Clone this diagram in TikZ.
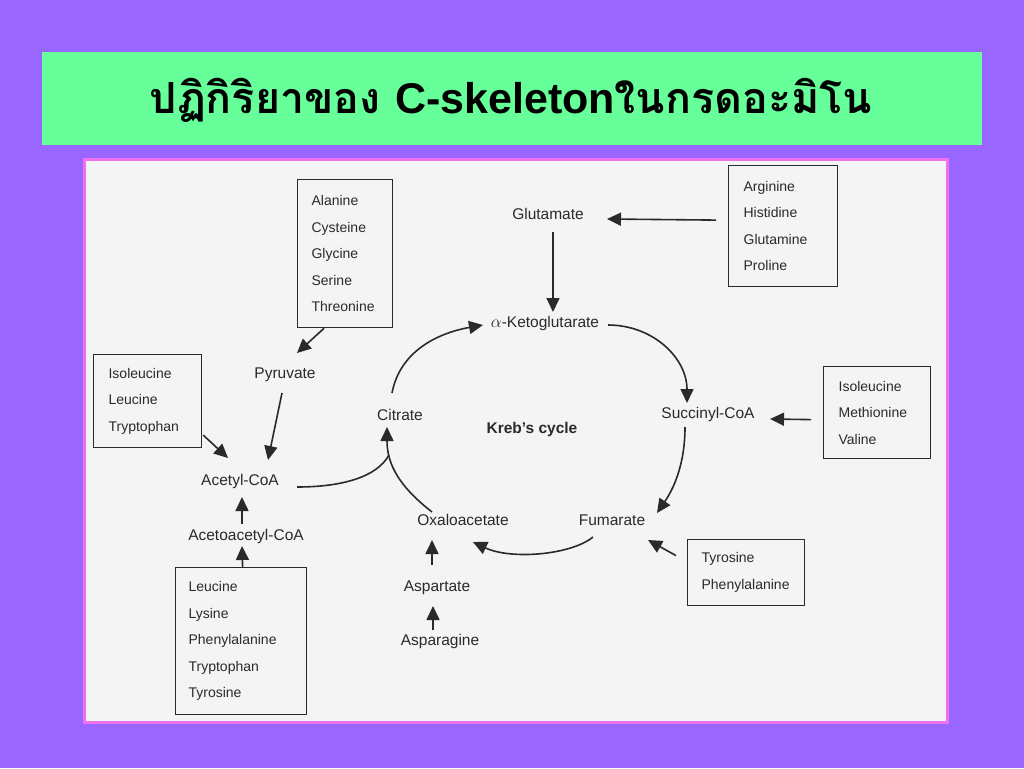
\documentclass[tikz,border=0pt]{standalone}
\usepackage{fontspec}
\setmainfont{Liberation Sans}
\newfontfamily\thaifont[Script=Thai]{Loma}
\usetikzlibrary{arrows.meta,calc}
\definecolor{bgpurple}{HTML}{9966FF}
\definecolor{titlegreen}{HTML}{66FF99}
\definecolor{panelpink}{HTML}{F070F0}
\definecolor{panelbg}{HTML}{F4F4F4}
\definecolor{ink}{HTML}{2A2A2A}
\tikzset{
  lbl/.style={text=ink, inner sep=1pt, font=\fontsize{15.5}{17}\selectfont},
  ambox/.style={draw=ink, line width=1.2pt, text=ink, align=left, anchor=north west,
    inner ysep=0pt, font=\fontsize{14}{26.5}\selectfont},
  arr/.style={draw=ink, line width=1.6pt, -{Triangle[length=14pt,width=13pt]}},
  plain/.style={draw=ink, line width=1.6pt}
}
\begin{document}
\begin{tikzpicture}[x=1pt,y=-1pt]
\fill[bgpurple] (0,0) rectangle (1024,768);
\useasboundingbox (0,0) rectangle (1024,768);
% title
\fill[titlegreen] (42,52) rectangle (982,145);
\node (title) at (511,100) {\fontsize{43}{46}\selectfont\bfseries\thaifont ปฏิกิริยาของ \rmfamily C-skeleton\thaifont ในกรดอะมิโน};
% panel
\fill[panelpink] (83,158) rectangle (949,724);
\fill[panelbg] (86,161) rectangle (946,721);
% boxes
\node[ambox, inner xsep=14pt, text width=67pt, minimum height=148pt] (box1) at (297,179)
  {Alanine\\Cysteine\\Glycine\\Serine\\Threonine};
\node[ambox, inner xsep=15pt, text width=78pt, minimum height=93pt] (box2) at (93,354)
  {Isoleucine\\Leucine\\Tryptophan};
\node[ambox, inner xsep=13pt, text width=105pt, minimum height=147pt] (box3) at (175,567)
  {Leucine\\Lysine\\Phenylalanine\\Tryptophan\\Tyrosine};
\node[ambox, inner xsep=15pt, text width=79pt, minimum height=121pt] (box4) at (728,165)
  {Arginine\\Histidine\\Glutamine\\Proline};
\node[ambox, inner xsep=15pt, text width=77pt, minimum height=92pt] (box5) at (823,366)
  {Isoleucine\\Methionine\\Valine};
\node[ambox, inner xsep=14pt, text width=89pt, minimum height=66pt] (box6) at (687,539)
  {Tyrosine\\Phenylalanine};
% labels
\node[lbl] (pyr) at (285,375) {Pyruvate};
\node[lbl] (acetyl) at (240,481) {Acetyl-CoA};
\node[lbl] (acac) at (246,536) {Acetoacetyl-CoA};
\node[lbl] (citrate) at (400,415) {Citrate};
\node[lbl, font=\fontsize{15.5}{17}\selectfont\bfseries] (kreb) at (532,429) {Kreb’s cycle};
\node[lbl] (akg) at (545,323) {{\fontsize{19}{19}\selectfont$\alpha$}-Ketoglutarate};
\node[lbl] (glut) at (548,214) {Glutamate};
\node[lbl] (succ) at (708,414) {Succinyl-CoA};
\node[lbl] (fum) at (612,520) {Fumarate};
\node[lbl] (oxalo) at (463,520) {Oxaloacetate};
\node[lbl] (asp) at (437,588) {Aspartate};
\node[lbl] (aspn) at (440,641) {Asparagine};
\coordinate (join) at (389,455);
% straight arrows
\draw[arr] ($(box1.south)+(-21,0)$) -- ($(pyr.center)+(12,-22)$);
\draw[arr] ($(pyr.center)+(-3,18)$) -- ($(acetyl.center)+(28,-21)$);
\draw[arr] ($(box2.east)+(1,34)$) -- ($(acetyl.center)+(-12,-23)$);
\draw[arr] ($(acac.center)+(-4,-12)$) -- ($(acetyl.center)+(2,16)$);
\draw[arr] ($(box3.north)+(1.5,0)$) -- ($(acac.center)+(-4,10)$);
\draw[arr] ($(asp.center)+(-5,-23)$) -- ($(oxalo.center)+(-31,20)$);
\draw[arr] ($(aspn.center)+(-7,-11)$) -- ($(asp.center)+(-4,18)$);
\draw[arr] ($(glut.center)+(5,18)$) -- ($(akg.center)+(8,-11)$);
\draw[arr] ($(box4.west)+(-12,-6)$) -- ($(glut.center)+(59,5)$);
\draw[arr] ($(box5.west)+(-12,7)$) -- ($(succ.center)+(62,5)$);
\draw[arr] ($(box6.west)+(-11,-17)$) -- ($(fum.center)+(36,20)$);
% cycle curves
\draw[arr] ($(citrate.center)+(-8,-22)$) .. controls +(8,-42) and +(-45,8) .. ($(akg.center)+(-62,2)$);
\draw[arr] ($(akg.center)+(63,2)$) .. controls +(45,0) and +(0,-45) .. ($(succ.center)+(-21,-11)$);
\draw[arr] ($(succ.center)+(-23,13)$) .. controls +(0,40) and +(15,-22) .. ($(fum.center)+(45,-7)$);
\draw[arr] ($(fum.center)+(-19,17)$) .. controls +(-22,18) and +(38,18) .. ($(oxalo.center)+(10,22)$);
\draw[arr] ($(oxalo.center)+(-31,-8)$) .. controls +(-32,-25) and +(0,38) .. ($(citrate.center)+(-13,12)$);
\draw[plain] ($(acetyl.center)+(57,6)$) .. controls +(45,0) and +(-12,22) .. (join);
\end{tikzpicture}
\end{document}
